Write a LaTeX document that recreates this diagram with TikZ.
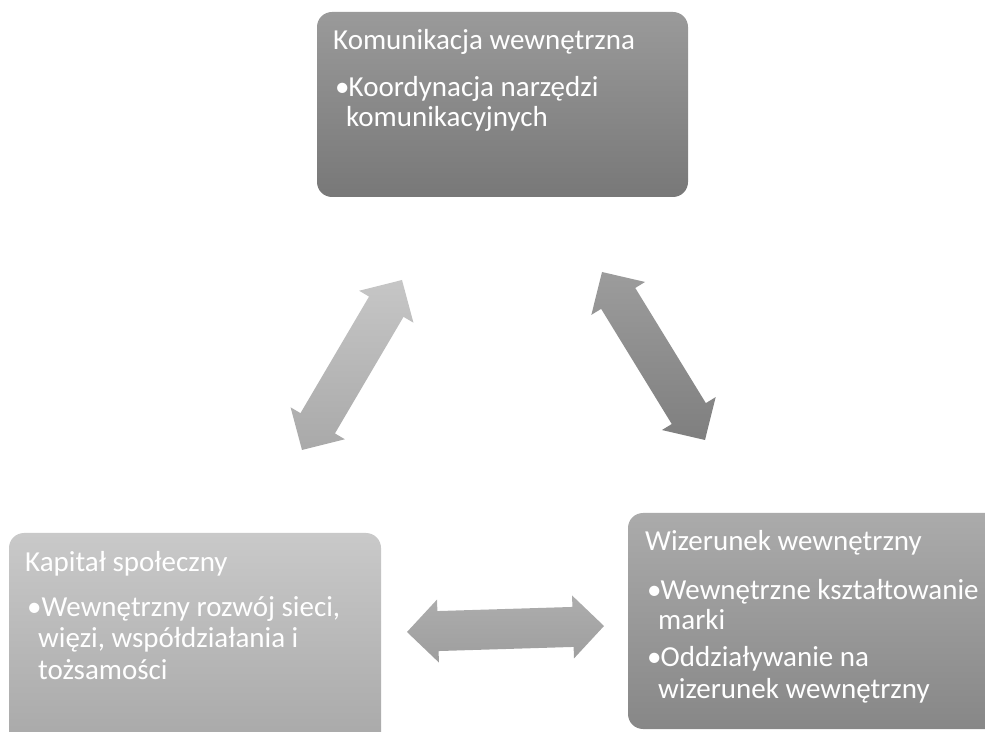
\documentclass[tikz,border=0pt]{standalone}
\usepackage{fontspec}
\setmainfont{Carlito}
\usetikzlibrary{calc}
\definecolor{komTop}{HTML}{9A9A9A}
\definecolor{komBot}{HTML}{787878}
\definecolor{kapTop}{HTML}{C9C9C9}
\definecolor{kapBot}{HTML}{A6A6A6}
\definecolor{wizTop}{HTML}{ABABAB}
\definecolor{wizBot}{HTML}{878787}
\definecolor{laTop}{HTML}{C6C6C6}
\definecolor{laBot}{HTML}{A9A9A9}
\definecolor{raTop}{HTML}{9C9C9C}
\definecolor{raBot}{HTML}{7F7F7F}
\definecolor{haTop}{HTML}{ADADAD}
\definecolor{haBot}{HTML}{9E9E9E}
\newcommand\myblockarrow[4]{%
  \coordinate (#1-h) at ($(#1)!31pt!(#2)$);
  \coordinate (#2-h) at ($(#2)!31pt!(#1)$);
  \shade[top color=#3,bottom color=#4] (#1)
    -- ($(#1-h)!31.5pt!90:(#2)$) -- ($(#1-h)!20pt!90:(#2)$)
    -- ($(#2-h)!20pt!-90:(#1)$) -- ($(#2-h)!31.5pt!-90:(#1)$)
    -- (#2)
    -- ($(#2-h)!31.5pt!90:(#1)$) -- ($(#2-h)!20pt!90:(#1)$)
    -- ($(#1-h)!20pt!-90:(#2)$) -- ($(#1-h)!31.5pt!-90:(#2)$)
    -- cycle;}
\begin{document}
\begin{tikzpicture}[x=1pt,y=1pt,
  box/.style={rectangle, rounded corners=15pt, inner sep=0pt, draw=none},
  ttl/.style={anchor=base west, inner sep=0pt, text=white, font=\fontsize{29}{30}\selectfont},
  bul/.style={anchor=base west, inner sep=0pt, text=white, font=\fontsize{29}{30}\selectfont}]
\useasboundingbox (0,0) rectangle (985,731);
\clip (0,0) rectangle (985,731);
% boxes
\node[box, minimum width=371pt, minimum height=185pt, top color=komTop, bottom color=komBot] (kom) at (502.5,626.5) {};
\node[box, minimum width=372pt, minimum height=228pt, top color=kapTop, bottom color=kapBot] (kap) at (195,84) {};
\node[box, minimum width=382pt, minimum height=216pt, top color=wizTop, bottom color=wizBot] (wiz) at (819,110) {};
% texts
\node[ttl] (komT) at (333,681) {Komunikacja wewnętrzna};
\node[bul] (komB1) at (335,634) {\makebox[13.5pt][l]{•}Koordynacja narzędzi};
\node[bul] (komB1b) at (346,604) {komunikacyjnych};
\node[ttl] (kapT) at (25,159) {Kapitał społeczny};
\node[bul] (kapB1) at (27,114) {\makebox[14.5pt][l]{•}Wewnętrzny rozwój sieci,};
\node[bul] (kapB1b) at (38,83) {więzi, współdziałania i};
\node[bul] (kapB1c) at (38,52) {tożsamości};
\node[ttl] (wizT) at (645,180) {Wizerunek wewnętrzny};
\node[bul] (wizB1) at (647,131) {\makebox[13.5pt][l]{•}Wewnętrzne kształtowanie};
\node[bul] (wizB1b) at (658,101) {marki};
\node[bul] (wizB2) at (647,64) {\makebox[13.5pt][l]{•}Oddziaływanie na};
\node[bul] (wizB2b) at (658,33) {wizerunek wewnętrzny};
% arrows
\coordinate (la1) at (302,281);
\coordinate (la2) at (402,451);
\coordinate (ra1) at (602,459);
\coordinate (ra2) at (705,291);
\coordinate (ha1) at (407,99);
\coordinate (ha2) at (604,105);
\myblockarrow{la1}{la2}{laTop}{laBot}
\myblockarrow{ra1}{ra2}{raTop}{raBot}
\myblockarrow{ha1}{ha2}{haTop}{haBot}
\end{tikzpicture}
\end{document}
